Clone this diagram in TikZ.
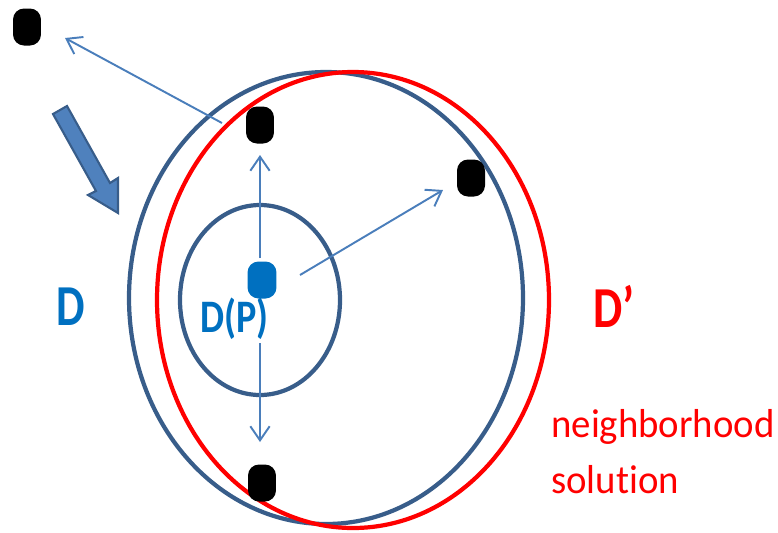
\documentclass[tikz,border=0pt]{standalone}
\usepackage{fontspec}
\setmainfont[Ligatures=NoCommon]{Carlito}
\usepackage{tikz}
\usetikzlibrary{arrows.meta,calc,positioning}
\definecolor{ringblue}{HTML}{385D8A}
\definecolor{arrblue}{HTML}{4A7EBB}
\definecolor{txtblue}{HTML}{0070C0}
\definecolor{blockfill}{HTML}{4F81BD}
\tikzset{
  sol/.style={fill=black,rounded corners=2.2mm,minimum width=5.6mm,minimum height=7.4mm,inner sep=0pt},
  move/.style={arrblue,line width=1.1pt,-{Straight Barb[length=8pt,width=11pt]}},
  ring/.style={line width=2.4pt},
  lbl/.style={inner sep=0pt,anchor=base west},
}

\begin{document}
\begin{tikzpicture}[x=0.02cm,y=-0.02cm]
  \useasboundingbox (0,0) rectangle (778,532);
  \draw[ring,ringblue] (326,298) ellipse [x radius=197,y radius=226];
  \draw[ring,red] (353,300) ellipse [x radius=196,y radius=228];
  \draw[ring,ringblue] (260,300) ellipse [x radius=80,y radius=95];
  \node[sol] (far) at (27,27) {};
  \node[sol] (top) at (260,125) {};
  \node[sol] (right) at (471,178) {};
  \node[sol] (bottom) at (262,483) {};
  \node[sol,fill=txtblue,minimum width=5.8mm] (P) at (262,280) {};
  \coordinate (upA) at (260,258);
  \coordinate (upB) at (260,155);
  \coordinate (dnA) at (260,343);
  \coordinate (dnB) at (260,442);
  \coordinate (rtA) at (300,275);
  \coordinate (rtB) at (443,190);
  \coordinate (ltA) at (222,123);
  \coordinate (ltB) at (65,38);
  \draw[move] (upA) -- (upB);
  \draw[move] (dnA) -- (dnB);
  \draw[move] (rtA) -- (rtB);
  \draw[move] (ltA) -- (ltB);
  \filldraw[blockfill,draw=ringblue,line width=1.2pt,line join=miter]
    (67,106) -- (110,183) -- (118,178) -- (118,213) -- (88,195) -- (96,191) -- (53,114) -- cycle;
  \node[lbl,txtblue,font=\bfseries\fontsize{33}{36}\selectfont] (D) at (56,325) {\scalebox{0.78}[1]{D}};
  \node[lbl,txtblue,font=\bfseries\fontsize{26.5}{30}\selectfont] (DP) at (200,332) {\scalebox{0.82}[1]{D(P)}};
  \node[lbl,red,font=\bfseries\fontsize{33}{36}\selectfont] (Dn) at (593,327) {\scalebox{0.8}[1]{D’}};
  \node[lbl,red,font=\fontsize{23}{26}\selectfont] (nbh) at (551,437) {\scalebox{0.96}[1]{neighborhood}};
  \node[lbl,red,font=\fontsize{23}{26}\selectfont] (soln) at (551,493) {\scalebox{0.96}[1]{solution}};
\end{tikzpicture}
\end{document}
